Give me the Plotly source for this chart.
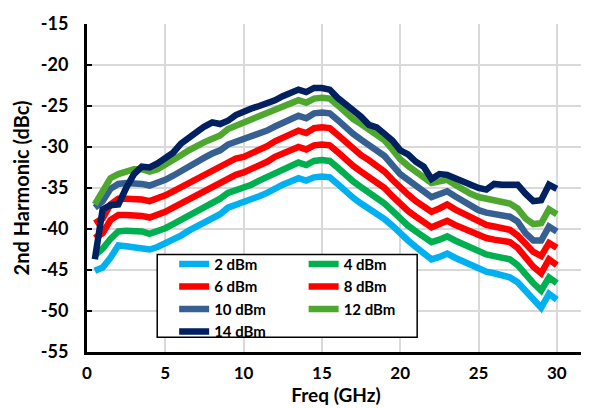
import plotly.graph_objects as go

freq = [0.5, 1.0, 1.5, 2.0, 2.5, 3.0, 3.5, 4.0, 4.5, 5.0, 5.5, 6.0, 6.5, 7.0, 7.5, 8.0, 8.5, 9.0, 9.5, 10.0,
        10.5, 11.0, 11.5, 12.0, 12.5, 13.0, 13.5, 14.0, 14.5, 15.0, 15.5, 16.0, 16.5, 17.0, 17.5, 18.0, 18.5, 19.0, 19.5, 20.0,
        20.5, 21.0, 21.5, 22.0, 22.5, 23.0, 23.5, 24.0, 24.5, 25.0, 25.5, 26.0, 26.5, 27.0, 27.5, 28.0, 28.5, 29.0, 29.5, 30.0]

p2 = [-45.1, -44.7, -43.5, -42.0, -42.1, -42.2, -42.3, -42.5, -42.2, -41.8, -41.3, -40.8, -40.2, -39.7, -39.2, -38.6, -38.2, -37.4, -37.1, -36.8,
      -36.4, -36.0, -35.6, -35.0, -34.6, -34.2, -33.8, -34.1, -33.7, -33.6, -33.7, -34.5, -35.4, -36.2, -36.9, -37.5, -38.2, -38.8, -39.6, -40.6,
      -41.4, -42.2, -42.9, -43.7, -43.4, -43.0, -43.5, -43.9, -44.4, -44.9, -45.2, -45.4, -45.7, -45.9, -46.5, -47.6, -48.6, -49.6, -47.9, -48.6]

p4 = [-43.2, -42.4, -41.2, -40.3, -40.2, -40.2, -40.3, -40.6, -40.3, -39.9, -39.4, -38.9, -38.3, -37.8, -37.3, -36.7, -36.3, -35.6, -35.3, -35.0,
      -34.6, -34.1, -33.7, -33.1, -32.7, -32.3, -31.9, -32.2, -31.7, -31.6, -31.7, -32.5, -33.4, -34.2, -34.9, -35.5, -36.2, -36.9, -37.8, -38.8,
      -39.6, -40.3, -40.9, -41.6, -41.3, -40.9, -41.4, -41.8, -42.3, -42.8, -43.1, -43.3, -43.5, -43.7, -44.4, -45.6, -46.6, -47.5, -45.9, -46.6]

p6 = [-41.1, -40.5, -38.9, -38.3, -38.3, -38.3, -38.4, -38.6, -38.3, -37.9, -37.4, -36.9, -36.3, -35.8, -35.3, -34.8, -34.4, -33.7, -33.4, -33.1,
      -32.7, -32.2, -31.8, -31.2, -30.8, -30.4, -30.0, -30.3, -29.8, -29.7, -29.8, -30.6, -31.5, -32.3, -33.0, -33.6, -34.3, -35.0, -36.0, -37.0,
      -37.8, -38.5, -39.1, -39.8, -39.4, -39.0, -39.5, -39.9, -40.4, -40.8, -41.1, -41.3, -41.5, -41.6, -42.3, -43.5, -44.6, -45.4, -43.7, -44.4]

p8 = [-39.3, -38.7, -37.0, -36.3, -36.3, -36.3, -36.4, -36.6, -36.3, -35.9, -35.4, -34.9, -34.3, -33.8, -33.3, -32.8, -32.4, -31.7, -31.4, -31.2,
      -30.8, -30.3, -29.9, -29.3, -28.9, -28.5, -28.0, -28.3, -27.7, -27.6, -27.7, -28.5, -29.4, -30.3, -31.0, -31.6, -32.3, -33.0, -34.0, -35.0,
      -35.8, -36.6, -37.2, -37.9, -37.5, -37.0, -37.6, -38.1, -38.6, -39.1, -39.5, -39.7, -39.9, -40.1, -40.8, -41.9, -42.8, -43.3, -41.7, -42.3]

p10 = [-37.4, -36.6, -35.1, -34.5, -34.4, -34.4, -34.5, -34.7, -34.4, -34.0, -33.5, -32.9, -32.3, -31.8, -31.3, -30.8, -30.4, -29.7, -29.4, -29.1,
       -28.8, -28.4, -28.0, -27.5, -27.1, -26.7, -26.2, -26.5, -25.9, -25.8, -25.9, -26.7, -27.6, -28.4, -29.1, -29.7, -30.4, -31.1, -32.2, -33.3,
       -34.0, -34.8, -35.4, -36.1, -35.8, -35.4, -36.0, -36.6, -37.1, -37.7, -38.0, -38.2, -38.3, -38.5, -39.1, -40.5, -41.4, -41.4, -39.7, -40.3]

p12 = [-37.0, -35.5, -33.8, -33.3, -32.9, -32.7, -32.7, -33.0, -32.7, -32.2, -31.7, -31.0, -30.4, -29.8, -29.4, -29.0, -28.6, -27.8, -27.4, -27.0,
       -26.7, -26.4, -26.0, -25.5, -25.1, -24.7, -24.3, -24.6, -24.1, -24.0, -24.1, -24.9, -25.8, -26.6, -27.2, -27.9, -28.5, -29.2, -30.3, -31.5,
       -32.3, -33.0, -33.7, -34.4, -34.2, -34.0, -34.6, -35.2, -35.7, -36.1, -36.3, -36.4, -36.6, -36.9, -37.5, -38.7, -39.4, -39.3, -37.6, -38.2]

p14 = [-43.7, -37.6, -37.1, -37.0, -35.0, -33.3, -32.4, -32.5, -32.0, -31.3, -30.7, -29.6, -28.8, -28.2, -27.5, -27.0, -27.2, -26.8, -26.1, -25.6,
       -25.3, -25.0, -24.7, -24.3, -23.8, -23.4, -23.0, -23.3, -22.8, -22.8, -23.0, -24.0, -24.7, -25.6, -26.3, -27.3, -27.6, -28.4, -29.2, -30.4,
       -30.9, -31.8, -32.4, -33.9, -33.3, -33.4, -33.8, -34.4, -34.7, -35.0, -35.2, -34.5, -34.6, -34.6, -34.6, -35.7, -36.6, -36.5, -34.6, -35.1]

names = ["2 dBm", "4 dBm", "6 dBm", "8 dBm", "10 dBm", "12 dBm", "14 dBm"]
series = [p2, p4, p6, p8, p10, p12, p14]
colors = ["#00B0F0", "#00B050", "#FF0000", "#FF0000", "#376092", "#4EA72E", "#002060"]
legend_of = ["legend", "legend2", "legend", "legend2", "legend", "legend2", "legend"]

x_ticks = [0, 5, 10, 15, 20, 25, 30]
y_ticks = [-55, -50, -45, -40, -35, -30, -25, -20, -15]

FONT = "Lato"

fig = go.Figure()
for name, ys, col, lg in zip(names, series, colors, legend_of):
    fig.add_trace(go.Scatter(
        x=freq, y=ys, mode="lines", name=name,
        line=dict(color=col, width=6.5, shape="linear"),
        legend=lg,
    ))

legend_common = dict(
    bgcolor="rgba(0,0,0,0)", borderwidth=0,
    font=dict(family=FONT, size=15, color="black", weight="bold"),
    xanchor="left", yanchor="top", orientation="v",
    tracegroupgap=0, itemwidth=30,
)

fig.update_layout(
    width=581, height=400,
    margin=dict(l=79, r=4, t=12, b=56),
    paper_bgcolor="white", plot_bgcolor="white",
    font=dict(family=FONT, color="black"),
    showlegend=True,
    legend=dict(x=0.175, y=0.318, **legend_common),
    legend2=dict(x=0.435, y=0.318, **legend_common),
    xaxis=dict(
        range=[0, 31.8], tickmode="array", tickvals=x_ticks,
        ticktext=[str(v) for v in x_ticks],
        showgrid=True, gridcolor="#D9D9D9", gridwidth=2,
        showline=True, linecolor="black", linewidth=3,
        ticks="", zeroline=False,
        tickfont=dict(family=FONT, size=17, color="black", weight="bold"),
        ticklabelstandoff=4, ticklabeloverflow="allow",
        title=dict(text="Freq (GHz)", font=dict(family=FONT, size=19, color="black", weight="bold"), standoff=5),
    ),
    yaxis=dict(
        range=[-55, -15], tickmode="array", tickvals=y_ticks,
        ticktext=[str(v) for v in y_ticks],
        showgrid=True, gridcolor="#D9D9D9", gridwidth=2,
        showline=True, linecolor="black", linewidth=3,
        ticks="inside", ticklen=5, tickwidth=2, tickcolor="black", zeroline=False,
        tickfont=dict(family=FONT, size=18, color="black", weight="bold"),
        ticklabelstandoff=12, ticklabeloverflow="allow",
        title=dict(text="2nd Harmonic (dBc)", font=dict(family=FONT, size=20, color="black", weight="bold"), standoff=6),
    ),
    shapes=[
        dict(type="rect", xref="paper", yref="paper", x0=0.141, x1=0.663, y0=0.045, y1=0.297,
             line=dict(color="black", width=1.5), fillcolor="white", layer="above"),
        dict(type="line", xref="paper", yref="paper", x0=1, x1=1, y0=0, y1=1,
             line=dict(color="#404040", width=2)),
    ],
)

fig.write_html("out.html")
